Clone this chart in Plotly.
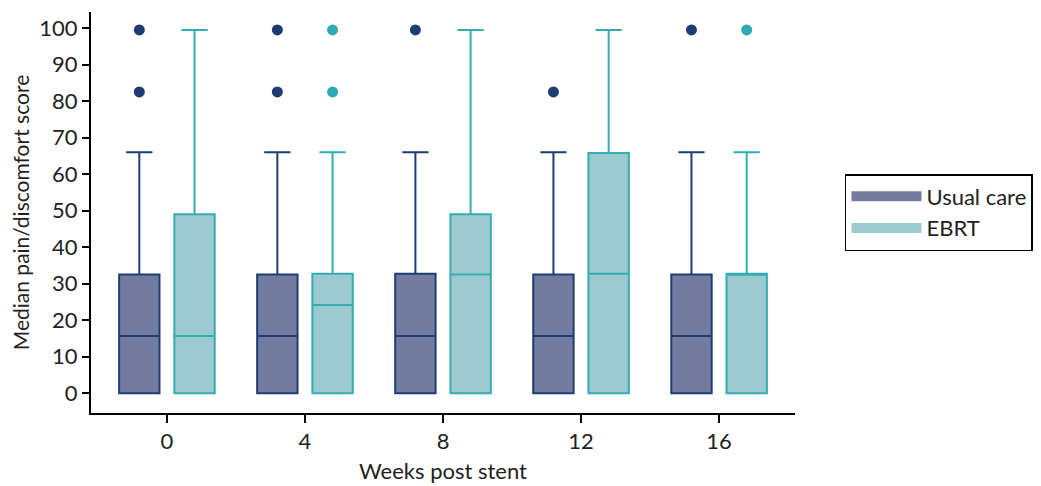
import plotly.graph_objects as go

weeks = [0, 4, 8, 12, 16]
week_labels = ["0", "4", "8", "12", "16"]

# Usual care box statistics
uc_q1 = [0, 0, 0, 0, 0]
uc_median = [15.7, 15.7, 15.7, 15.7, 15.7]
uc_q3 = [32.5, 32.5, 32.7, 32.5, 32.5]
uc_low = [0, 0, 0, 0, 0]
uc_high = [66, 66, 66, 66, 66]
uc_outliers = [[82.5, 99.5], [82.5, 99.5], [99.5], [82.5], [99.5]]

# EBRT box statistics
eb_q1 = [0, 0, 0, 0, 0]
eb_median = [15.7, 24.2, 32.5, 32.7, 32.7]
eb_q3 = [49, 32.7, 49, 65.8, 32.7]
eb_low = [0, 0, 0, 0, 0]
eb_high = [99.5, 66, 99.5, 99.5, 66]
eb_outliers = [[], [82.5, 99.5], [], [], [99.5]]

offset = 0.8
box_w = 1.17

uc_fill, uc_line = "#737BA0", "#1D3E73"
eb_fill, eb_line = "#9DCAD0", "#33ADB3"

fig = go.Figure()

fig.add_trace(go.Box(
    name="Usual care", x=[w - offset for w in weeks], showlegend=False,
    q1=uc_q1, median=uc_median, q3=uc_q3, lowerfence=uc_low, upperfence=uc_high,
    fillcolor=uc_fill, line=dict(color=uc_line, width=2), width=box_w, whiskerwidth=0.65,
    boxpoints=False, hoverinfo="skip"))
fig.add_trace(go.Box(
    name="EBRT", x=[w + offset for w in weeks], showlegend=False,
    q1=eb_q1, median=eb_median, q3=eb_q3, lowerfence=eb_low, upperfence=eb_high,
    fillcolor=eb_fill, line=dict(color=eb_line, width=2), width=box_w, whiskerwidth=0.65,
    boxpoints=False, hoverinfo="skip"))

ux, uy, ex, ey = [], [], [], []
for w, outs in zip(weeks, uc_outliers):
    for o in outs:
        ux.append(w - offset); uy.append(o)
for w, outs in zip(weeks, eb_outliers):
    for o in outs:
        ex.append(w + offset); ey.append(o)

fig.add_trace(go.Scatter(x=ux, y=uy, mode="markers", showlegend=False,
                         marker=dict(color="#1C3C72", size=11)))
fig.add_trace(go.Scatter(x=ex, y=ey, mode="markers", showlegend=False,
                         marker=dict(color="#2FAAB0", size=11)))

# legend entries (wide filled swatches)
for name, fill in [("Usual care", uc_fill), ("EBRT", eb_fill)]:
    fig.add_trace(go.Scatter(x=[None], y=[None], mode="lines", name=name,
                             line=dict(color=fill, width=18)))

fig.update_layout(
    width=1041, height=486,
    margin=dict(l=83, r=254, t=4, b=81, autoexpand=False),
    paper_bgcolor="white", plot_bgcolor="white",
    font=dict(family="Lato", size=22, color="#222"),
    showlegend=True,
    legend=dict(x=1.071, y=0.5, xanchor="left", yanchor="middle",
                bordercolor="black", borderwidth=1.5, font=dict(size=22),
                tracegroupgap=0, itemwidth=70),
)
fig.update_xaxes(
    range=[-2.2, 18.2], tickvals=weeks, ticktext=week_labels, automargin=False,
    showline=True, linecolor="black", linewidth=2, ticks="outside", ticklen=8,
    tickwidth=2, tickcolor="black", showgrid=False, zeroline=False,
    tickfont=dict(size=22), title=dict(text="Weeks post stent", font=dict(size=22), standoff=10),
)
fig.update_yaxes(
    range=[-5.4, 104.4], tickvals=list(range(0, 101, 10)), automargin=False,
    showline=True, linecolor="black", linewidth=2, ticks="outside", ticklen=7,
    tickwidth=2, tickcolor="black", showgrid=False, zeroline=False,
    tickfont=dict(size=22),
    title=dict(text="Median pain/discomfort score", font=dict(size=21), standoff=8),
)

fig.write_html("out.html")
